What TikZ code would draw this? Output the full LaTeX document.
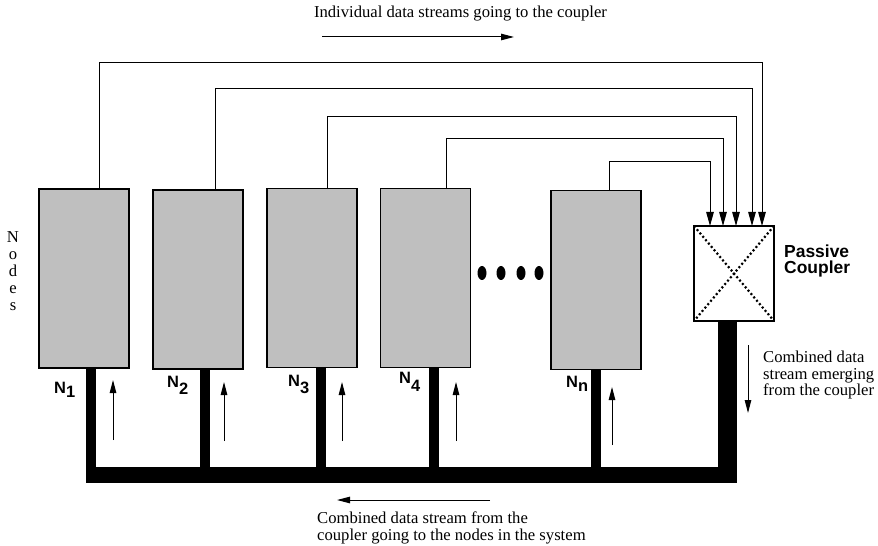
\documentclass[tikz,border=0pt]{standalone}
\usepackage{fontspec}
\setmainfont{Liberation Serif}
\setsansfont{Liberation Sans}
\usetikzlibrary{arrows.meta,calc}
\definecolor{boxgray}{RGB}{191,191,191}
\begin{document}
\begin{tikzpicture}[x=1bp,y=-1bp,
  station/.style={draw=black, line width=1.2bp, fill=boxgray,
    minimum width=90bp, minimum height=179bp, inner sep=0pt, outer sep=0pt},
  couplerbox/.style={draw=black, line width=1.2bp, fill=white,
    minimum width=80bp, minimum height=95bp, inner sep=0pt, outer sep=0pt},
  diag/.style={line width=2.2bp, dash pattern=on 2bp off 2.4bp},
  feed/.style={line width=1bp, -{Triangle[length=14bp,width=7.5bp]}},
  flow/.style={line width=1bp, -{Triangle[length=13bp,width=6.5bp]}},
  bus/.style={line width=16bp},
  stub/.style={line width=10bp},
  cstub/.style={line width=19bp},
  serif/.style={font=\fontsize{16.7}{17}\selectfont, inner sep=0pt},
  nlabel/.style={font=\sffamily\bfseries\fontsize{16.5}{16.5}\selectfont, inner sep=0pt, anchor=base west},
]
\useasboundingbox (0,0) rectangle (878,546);
\fill[white] (0,0) rectangle (878,546);

% stations and the star coupler
\node[station] (n1) at (84,278.5) {};
\node[station] (n2) at (198,279.5) {};
\node[station] (n3) at (312,278) {};
\node[station] (n4) at (425.5,278) {};
\node[station] (nn) at (596,280) {};
\node[couplerbox] (cp) at (734,273.5) {};
\draw[diag] (cp.north west) -- (cp.south east);
\draw[diag] (cp.north east) -- (cp.south west);

% ellipsis between station 4 and station n
\foreach \x in {482,501,521,539} \fill (\x,273) ellipse (4.5 and 7);

% transmit lines into the coupler
\draw[feed] ([xshift=15bp]n1.north) -- ++(0,-126) -| ([xshift=28bp]cp.north);
\draw[feed] ([xshift=17bp]n2.north) -- ++(0,-101) -| ([xshift=18bp]cp.north);
\draw[feed] ([xshift=15bp]n3.north) -- ++(0,-71.5) -| ([xshift=2bp]cp.north);
\draw[feed] ([xshift=20.5bp]n4.north) -- ++(0,-49.5) -| ([xshift=-11bp]cp.north);
\draw[feed] ([xshift=13bp]nn.north) -- ++(0,-28.5) -| ([xshift=-24bp]cp.north);

% receive bus
\coordinate (busW) at (86,475);
\coordinate (busE) at (737,475);
\draw[bus] (busW) -- (busE);
\draw[cstub] ($(cp.south)+(-6.5,0)$) -- ($(cp.south |- busW)+(-6.5,0)$);
\draw[stub] ($(n1.south)+(7,0)$) -- ($(n1.south |- busW)+(7,0)$);
\draw[stub] ($(n2.south)+(6.5,0)$) -- ($(n2.south |- busW)+(6.5,0)$);
\draw[stub] ($(n3.south)+(8.5,0)$) -- ($(n3.south |- busW)+(8.5,0)$);
\draw[stub] ($(n4.south)+(8,0)$) -- ($(n4.south |- busW)+(8,0)$);
\draw[stub] ($(nn.south)+(0,0)$) -- ($(nn.south |- busW)+(0,0)$);

% upward flow beside each stub
\draw[flow] ($(n1.south)+(29,72)$) -- ($(n1.south)+(29,12)$);
\draw[flow] ($(n2.south)+(26,72)$) -- ($(n2.south)+(26,13)$);
\draw[flow] ($(n3.south)+(30,73.5)$) -- ($(n3.south)+(30,14.5)$);
\draw[flow] ($(n4.south)+(30.5,73.5)$) -- ($(n4.south)+(30.5,14.5)$);
\draw[flow] ($(nn.south)+(16,75.5)$) -- ($(nn.south)+(16,17.5)$);

% station labels
\node[nlabel] (l1) at (54,393) {N\raisebox{-4bp}{1}};
\node[nlabel] (l2) at (167,387) {N\raisebox{-7bp}{2}};
\node[nlabel] (l3) at (288,386) {N\raisebox{-7bp}{3}};
\node[nlabel] (l4) at (399,383) {N\raisebox{-8bp}{4}};
\node[nlabel] (ln) at (566,387) {N\raisebox{-4bp}{n}};

\node[font=\sffamily\bfseries\fontsize{17.5}{17}\selectfont, align=left, anchor=west, inner sep=0pt]
  (pc) at (784,261) {Passive\\Coupler};

\node[serif, align=center] (nodes) at (13,271) {N\\o\\d\\e\\s};

% direction notes
\coordinate (t1) at (322,37);
\coordinate (t2) at (514,37);
\draw[flow] (t1) -- (t2);
\node[serif] (ttop) at (460.5,14) {Individual data streams going to the coupler};

\coordinate (r1) at (748,345);
\coordinate (r2) at (748,413);
\draw[flow] (r1) -- (r2);
\node[serif, align=left, anchor=west] (tright) at (763,375) {Combined data\\stream emerging\\from the coupler};

\coordinate (b1) at (490,500);
\coordinate (b2) at (337,500);
\draw[flow] (b1) -- (b2);
\node[serif, align=left, anchor=west] (tbot) at (317,528) {Combined data stream from the\\coupler going to the nodes in the system};
\end{tikzpicture}
\end{document}
